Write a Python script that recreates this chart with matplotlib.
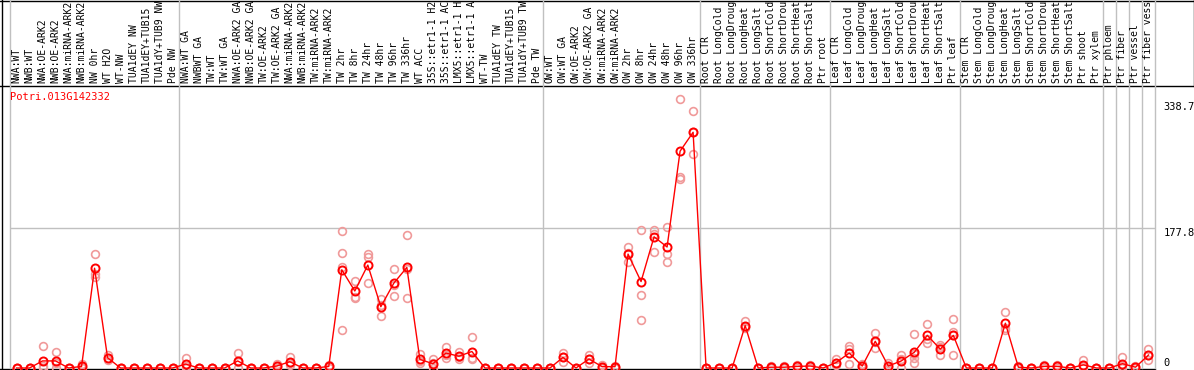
import matplotlib
matplotlib.use('Agg')
import matplotlib.pyplot as plt
from matplotlib.transforms import blended_transform_factory

# --- datos ---
gene_id = 'Potri.013G142332'

labels = [
    # grupo NW
    'NWA:WT', 'NWB:WT', 'NWA:OE-ARK2', 'NWB:OE-ARK2', 'NWA:miRNA-ARK2', 'NWB:miRNA-ARK2',
    'NW 0hr', 'WT H2O', 'WT-NW', 'TUA1dEY NW', 'TUA1dEY+TUB15', 'TUA1dY+TUB9 NW', 'Pde NW',
    # grupo TW
    'NWA:WT GA', 'NWBWT GA', 'TW:WT', 'TW:WT GA', 'NWA:OE-ARK2 GA', 'NWB:OE-ARK2 GA',
    'TW:OE-ARK2', 'TW:OE-ARK2 GA', 'NWA:miRNA-ARK2', 'NWB:miRNA-ARK2', 'TW:miRNA-ARK2',
    'TW:miRNA-ARK2', 'TW 2hr', 'TW 8hr', 'TW 24hr', 'TW 48hr', 'TW 96hr', 'TW 336hr',
    'WT ACC', '35S::etr1-1 H2', '35S::etr1-1 AC', 'LMX5::etr1-1 H', 'LMX5::etr1-1 A',
    'WT-TW', 'TUA1dEY TW', 'TUA1dEY+TUB15', 'TUA1dY+TUB9 TW', 'Pde TW',
    # grupo OW
    'OW:WT', 'OW:WT GA', 'OW:OE-ARK2', 'OW:OE-ARK2 GA', 'OW:miRNA-ARK2', 'OW:miRNA-ARK2',
    'OW 2hr', 'OW 8hr', 'OW 24hr', 'OW 48hr', 'OW 96hr', 'OW 336hr',
    # raiz
    'Root CTR', 'Root LongCold', 'Root LongDroug', 'Root LongHeat', 'Root LongSalt',
    'Root ShortCold', 'Root ShortDrou', 'Root ShortHeat', 'Root ShortSalt', 'Ptr root',
    # hoja
    'Leaf CTR', 'Leaf LongCold', 'Leaf LongDroug', 'Leaf LongHeat', 'Leaf LongSalt',
    'Leaf ShortCold', 'Leaf ShortDrou', 'Leaf ShortHeat', 'Leaf ShortSalt', 'Ptr leaf',
    # tallo
    'Stem CTR', 'Stem LongCold', 'Stem LongDroug', 'Stem LongHeat', 'Stem LongSalt',
    'Stem ShortCold', 'Stem ShortDrou', 'Stem ShortHeat', 'Stem ShortSalt', 'Ptr shoot', 'Ptr xylem',
    'Ptr phloem', 'Ptr fiber', 'Ptr vessel', 'Ptr fiber vess',
]

group_bounds = [0, 13, 41, 53, 63, 73, 84, 85, 86, 87, 88]

means = [
    0, 0, 9, 9, 0, 2, 127, 13, 0, 0, 0, 0, 0,
    5, 0, 0, 0, 9, 0, 0, 2.5, 8, 0, 0, 2, 125, 98, 131, 78, 108, 128, 11, 5.5, 19, 15, 21, 0, 0, 0, 0, 0,
    0, 13.5, 0, 11.5, 1.7, 1.7, 145, 110, 167, 154, 276, 300,
    0, 0, 0, 54, 0, 1, 1, 2, 2.5, 0,
    7, 19, 2.5, 34, 2.5, 9, 20, 41.5, 24, 41.5,
    0, 0, 0, 57, 1, 0, 2, 2, 0, 4, 0,
    0, 5.5, 1, 16.5,
]

replicates = [
    [0, 0, 0], [0, 0, 0], [28, 2, 0], [20, 0, 6], [0, 0, 0], [5, 0, 1], [145, 120, 116], [16, 10, 13],
    [0, 0, 0], [0, 0, 0], [0, 0, 0], [0, 0, 0], [0, 0, 0],
    [13, 0, 2], [0, 0, 0], [0, 0, 0], [0, 0, 0], [19, 0, 8], [0, 0, 0], [0, 0, 0], [5, 0, 2],
    [14, 4, 6], [0, 0, 0], [0, 0, 0], [4, 0, 2], [175, 147, 49, 129], [111, 91, 89], [145, 141, 108],
    [88, 66, 80], [126, 92, 106], [169, 89, 126], [18, 6, 9], [11, 0, 6], [27, 13, 17], [20, 11, 14],
    [39, 11, 13], [0, 0, 0], [0, 0, 0], [0, 0, 0], [0, 0, 0], [0, 0, 0],
    [0, 0, 0], [19, 8, 14], [0, 0, 0], [16, 6, 12], [4, 0, 1], [0, 0, 2], [154, 135, 146],
    [176, 93, 61], [176, 171, 148], [180, 145, 135], [343, 243, 240], [327, 272, 300],
    [0, 0, 0], [0, 0, 0], [0, 0, 0], [60, 51, 52], [0, 0, 0], [2, 0, 1], [2, 0, 1], [4, 0, 2],
    [4, 0, 3], [0, 0, 0],
    [11, 4, 6], [28, 5, 24], [5, 0, 2.5], [45, 25, 33], [6, 0, 2], [16, 0, 11], [43, 13, 6, 18],
    [56, 32, 37], [29, 16, 27], [62, 46, 16, 42],
    [0, 0, 0], [0, 0, 0], [0, 0, 0], [71, 49, 51], [2, 0, 1], [0, 0, 0], [4, 0, 2], [4, 0, 2],
    [0, 0, 0], [10, 0, 2], [0, 0, 0],
    [0, 0, 0], [13.5, 0, 3], [2, 0, 1], [24, 10, 16],
]

ytick_vals = [0, 177.8, 338.7]

# --- figura ---
W, H = 1194, 370
fig = plt.figure(figsize=(W / 100, H / 100), dpi=100)
mono = 'DejaVu Sans Mono'

# marco de fondo en pixeles
bg = fig.add_axes([0, 0, 1, 1])
bg.set_xlim(0, W)
bg.set_ylim(H, 0)
bg.axis('off')
bg.plot([1.5, 1.5], [0, H], color='black', lw=1)
bg.plot([0, W], [0.5, 0.5], color='black', lw=1)
bg.plot([0, W], [85.5, 85.5], color='black', lw=1)
bg.plot([0, 1155], [368.5, 368.5], color='black', lw=1)
bg.plot([W - 0.5, W - 0.5], [0, 86], color='black', lw=1)

# area de datos
top_px, bot_px, left_px, right_px = 86, 368, 10, 1155
px_per_unit = (368 - 228.3) / 177.8
ax = fig.add_axes([left_px / W, (H - bot_px) / H, (right_px - left_px) / W, (bot_px - top_px) / H])
ax.set_xlim(0, len(labels))
ax.set_ylim(0, (bot_px - top_px) / px_per_unit)
ax.axis('off')
ax.patch.set_alpha(0)

ymax_frac = bot_px / (bot_px - top_px)
for b in group_bounds:
    ax.axvline(b, ymin=0, ymax=ymax_frac, clip_on=False, color='#c0c0c0', lw=1, zorder=0)
ax.axhline(177.8, color='#c0c0c0', lw=1, zorder=0)

xs = [i + 0.5 for i in range(len(labels))]
for x, reps in zip(xs, replicates):
    ax.plot([x] * len(reps), reps, linestyle='none', marker='o', ms=5.6, mfc='none',
            mec='#f09a9a', mew=1.2, clip_on=False, zorder=2)
ax.plot(xs, means, color='red', lw=1, marker='o', ms=5.8, mfc='none', mec='red',
        mew=1.4, clip_on=False, zorder=3)

# etiquetas de cabecera
trans = blended_transform_factory(ax.transData, fig.transFigure)
for x, lab in zip(xs, labels):
    ax.text(x, (H - 83) / H, lab, rotation=90, ha='center', va='bottom', transform=trans,
            fontsize=7, family=mono, color='black', clip_on=False)

fig.text(10 / W, (H - 97) / H, gene_id, color='red', fontsize=7.5, family=mono,
         ha='left', va='center')

# etiquetas del eje y a la derecha
for v in ytick_vals:
    va = 'bottom' if v == 0 else 'top'
    ax.text(len(labels) + 0.65, v, f'{v:g}', ha='left', va=va, fontsize=7.5,
            family=mono, color='black', clip_on=False)

fig.savefig('out.png', dpi=100)
